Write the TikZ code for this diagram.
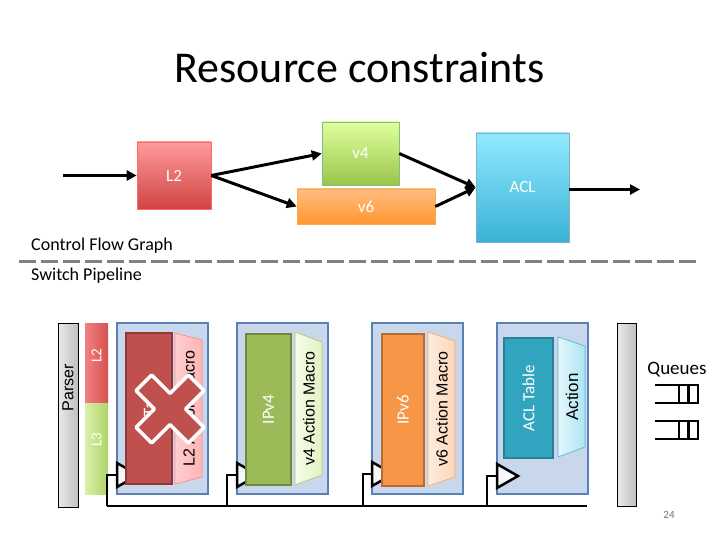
\documentclass[tikz,border=0pt]{standalone}
\usepackage{fontspec}
\setmainfont{Carlito}
\newfontfamily\arialf{Liberation Sans}
\usetikzlibrary{arrows.meta,shapes.geometric}
\definecolor{stagefill}{HTML}{C9D7EC}
\definecolor{stageline}{HTML}{5A80B8}
\definecolor{redtab}{HTML}{C0504D}
\definecolor{redtabline}{HTML}{8C3836}
\definecolor{greentab}{HTML}{9BBB59}
\definecolor{greentabline}{HTML}{71893F}
\definecolor{orangetab}{HTML}{F79646}
\definecolor{orangetabline}{HTML}{B66D31}
\definecolor{cyantab}{HTML}{31A5C0}
\definecolor{cyantabline}{HTML}{2C7E93}
\tikzset{
  fsz/.style={font=\fontsize{#1}{#1}\selectfont},
  flowbox/.style={rectangle, draw=#1, line width=0.6pt, text=white, font=\fontsize{17}{17}\selectfont, inner sep=0pt},
  flowarrow/.style={line width=3pt, -{Triangle[length=10pt,width=10pt]}},
  bar/.style={rectangle, draw=black, line width=0.8pt, left color=white!92!black, right color=white!75!black, inner sep=0pt},
  hdr/.style={rectangle, draw=none, inner sep=0pt, text=white, font=\fontsize{15}{15}\selectfont},
  stagebox/.style={rectangle, draw=stageline, line width=2pt, fill=stagefill, inner sep=0pt, minimum width=91pt, minimum height=171pt},
  tabbox/.style={rectangle, line width=2.5pt, inner sep=0pt, text=white, font=\fontsize{17}{17}\selectfont},
  traptext/.style={rotate=90, font=\arialf\fontsize{16}{16}\selectfont, text=black, inner sep=0pt},
  tri/.style={draw=black, line width=2.5pt, fill=white!80!stagefill, line join=miter},
  wire/.style={draw=black, line width=2.5pt},
  qline/.style={draw=black, line width=2.5pt}
}
\begin{document}
\begin{tikzpicture}[x=1pt,y=-1pt]
\useasboundingbox[fill=white] (0,0) rectangle (720,540);

% title
\node[fsz=44] (title) at (359.5,68) {Resource constraints};

% control flow graph
\node[flowbox=red!60!white, top color={rgb,255:red,255;green,155;blue,155}, bottom color={rgb,255:red,208;green,68;blue,68}, minimum width=74pt, minimum height=67pt] (l2) at (174,175.5) {L2};
\node[flowbox=green!50!black!50!white, top color={rgb,255:red,222;green,255;blue,158}, bottom color={rgb,255:red,155;green,197;blue,74}, minimum width=77pt, minimum height=63pt] (v4) at (360.5,153.5) {v4};
\node[flowbox=orange!70!white, top color={rgb,255:red,255;green,190;blue,128}, bottom color={rgb,255:red,255;green,150;blue,50}, minimum width=138pt, minimum height=35pt] (v6) at (366,206.5) {v6};
\node[flowbox=cyan!60!black!60!white, top color={rgb,255:red,145;green,234;blue,255}, bottom color={rgb,255:red,58;green,178;blue,214}, minimum width=93pt, minimum height=109pt] (acl) at (522.5,187.5) {ACL};
\coordinate (in) at (63,175.5);
\coordinate (out) at (640,189.5);
\draw[flowarrow] (in) -- (l2.west);
\draw[flowarrow] (l2.east) -- (v4.west);
\draw[flowarrow] (l2.east) -- (v6.west);
\draw[flowarrow] (v4.east) -- (acl.west);
\draw[flowarrow] (v6.east) -- (acl.west);
\draw[flowarrow] (acl.east |- out) -- (out);

\node[anchor=west, fsz=18, inner sep=0pt] (cfg) at (31,246) {Control Flow Graph};
\coordinate (dashL) at (19,261.5);
\coordinate (dashR) at (696,261.5);
\draw[draw=black!50, line width=3pt, dash pattern=on 17pt off 5pt] (dashL) -- (dashR);
\node[anchor=west, fsz=18, inner sep=0pt] (sp) at (31,276) {Switch Pipeline};

% parser and header
\node[bar, minimum width=20pt, minimum height=184pt] (parser) at (68,415) {};
\node[rotate=90, font=\arialf\fontsize{16}{16}\selectfont, inner sep=0pt] (parsertext) at (68,388) {Parser};
\node[hdr, left color={rgb,255:red,240;green,130;blue,130}, right color={rgb,255:red,215;green,80;blue,80}, minimum width=23pt, minimum height=80pt] (hl2) at (96.5,363) {};
\node[rotate=90, text=white, fsz=15, inner sep=0pt] (hl2t) at (96.5,356) {L2};
\node[hdr, left color={rgb,255:red,218;green,240;blue,170}, right color={rgb,255:red,176;green,212;blue,104}, minimum width=23pt, minimum height=91pt] (hl3) at (96.5,448.5) {};
\node[rotate=90, text=white, fsz=15, inner sep=0pt] (hl3t) at (96.5,440) {L3};

% deparser bar
\node[bar, minimum width=19pt, minimum height=183pt] (deparser) at (626.5,414.5) {};

% stages
\node[stagebox] (s1) at (162.5,408) {};
\node[stagebox] (s2) at (282.5,408.5) {};
\node[stagebox] (s3) at (417,408) {};
\node[stagebox] (s4) at (542.5,408.5) {};

% input triangles
\draw[tri] (117,463) -- (138,475) -- (117,487) -- cycle;
\draw[tri] (237,463) -- (258,475) -- (237,487) -- cycle;
\draw[tri] (372,462) -- (393,474) -- (372,486) -- cycle;
\draw[tri] (497,464) -- (518,476) -- (497,488) -- cycle;
\coordinate (t1) at (117,475);
\coordinate (t2) at (237,475);
\coordinate (t3) at (372,474);
\coordinate (t4) at (497,476);
\coordinate (b1) at (107,506);
\coordinate (b2) at (227,506);
\coordinate (b3) at (363,506);
\coordinate (b4) at (487,506);
\coordinate (bend) at (587,506);
\draw[wire] (b1) -- (bend);
\draw[wire, line join=miter] (b1) |- (t1);
\draw[wire, line join=miter] (b2) |- (t2);
\draw[wire, line join=miter] (b3) |- (t3);
\draw[wire, line join=miter] (b4) |- (t4);

% stage 1 : L2
\node[tabbox, draw=redtabline, fill=redtab, minimum width=46pt, minimum height=151pt] (tab1) at (149,408.5) {};
\node[rotate=90, text=white, fsz=17, inner sep=0pt] (tab1t) at (149,408.5) {L2 Table};
\draw[draw=red!45!white, line width=0.7pt, left color={rgb,255:red,255;green,205;blue,205}, right color={rgb,255:red,255;green,180;blue,180}] (175,333) -- (202,340) -- (202,477) -- (175,484) -- cycle;
\node[traptext] (act1) at (189,408.5) {L2 Action Macro};

% stage 2 : IPv4
\node[tabbox, draw=greentabline, fill=greentab, minimum width=45pt, minimum height=151pt] (tab2) at (268.5,409.5) {};
\node[rotate=90, text=white, fsz=17, inner sep=0pt] (tab2t) at (268.5,409.5) {IPv4};
\draw[draw=greentab!80!white, line width=0.7pt, left color={rgb,255:red,246;green,252;blue,232}, right color={rgb,255:red,226;green,242;blue,196}] (295,332) -- (322,342) -- (322,475) -- (295,485) -- cycle;
\node[traptext] (act2) at (309,408.5) {v4 Action Macro};

% stage 3 : IPv6
\node[tabbox, draw=orangetabline, fill=orangetab, minimum width=42pt, minimum height=152pt] (tab3) at (403,410) {};
\node[rotate=90, text=white, fsz=17, inner sep=0pt] (tab3t) at (403,410) {IPv6};
\draw[draw=orangetab!80!white, line width=0.7pt, left color={rgb,255:red,254;green,236;blue,222}, right color={rgb,255:red,252;green,214;blue,184}] (428,332) -- (455,341) -- (455,477) -- (428,486) -- cycle;
\node[traptext] (act3) at (442,409) {v6 Action Macro};

% stage 4 : ACL
\node[tabbox, draw=cyantabline, fill=cyantab, minimum width=49pt, minimum height=120pt] (tab4) at (528.5,398) {};
\node[rotate=90, text=white, fsz=17, inner sep=0pt] (tab4t) at (528.5,398) {ACL Table};
\draw[draw=cyantab!80!white, line width=0.7pt, left color={rgb,255:red,228;green,248;blue,252}, right color={rgb,255:red,172;green,228;blue,244}] (558,337) -- (585,346) -- (585,447) -- (558,457) -- cycle;
\node[traptext, fsz=17] (act4) at (572,397) {\arialf Action};

% red cross over stage 1
\begin{scope}[shift={(170,409)}, rotate=45]
  \draw[draw=white, line width=3.5pt, fill=redtab, line join=round]
    (11,11) -- (37,11) -- (37,-11) -- (11,-11) -- (11,-37) -- (-11,-37) -- (-11,-11)
    -- (-37,-11) -- (-37,11) -- (-11,11) -- (-11,37) -- (11,37) -- cycle;
\end{scope}

% queues
\node[fsz=19, inner sep=0pt] (queues) at (677,370) {Queues};
\draw[qline] (655,385) -- (698,385) -- (698,403) -- (655,403);
\draw[qline] (679,385) -- (679,403);
\draw[qline] (688.5,385) -- (688.5,403);
\draw[qline] (655,421) -- (698,421) -- (698,439) -- (655,439);
\draw[qline] (679,421) -- (679,439);
\draw[qline] (688.5,421) -- (688.5,439);

% page number
\node[fsz=11, text=black!55, inner sep=0pt] (pnum) at (669,515) {24};
\end{tikzpicture}
\end{document}
